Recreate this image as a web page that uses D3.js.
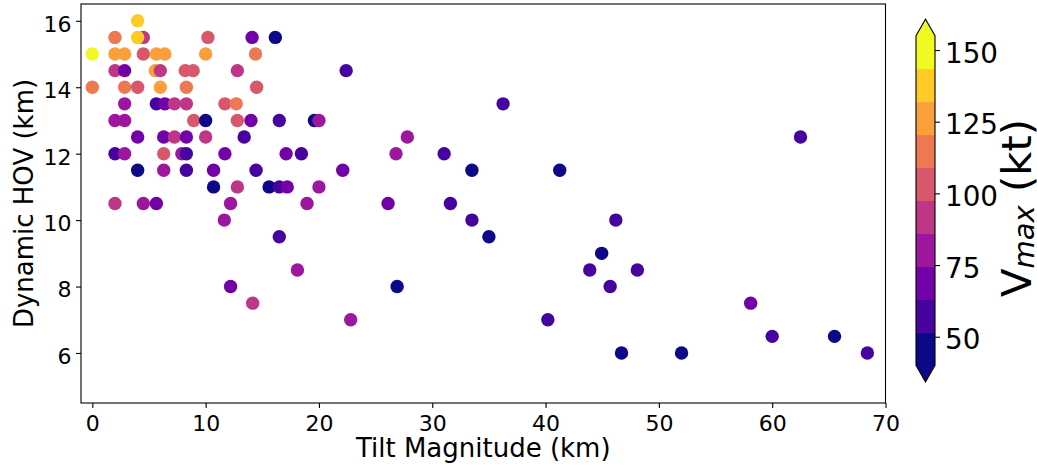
<!DOCTYPE html>
<html>
<head>
<meta charset="utf-8">
<script src="https://cdn.jsdelivr.net/npm/d3@7"></script>
<style>
  body { margin: 0; background: #fff; }
  svg { display: block; }
  text { font-family: "DejaVu Sans", sans-serif; fill: #000; }
</style>
</head>
<body>
<svg id="chart" width="1037" height="467"></svg>
<script>
// Tilt magnitude (km), dynamic HOV (km) and Vmax (kt) per case
const tilt = [
  4.0,
  2.0, 4.5, 4.0, 10.2, 14.1, 16.15,
  0.0, 2.0, 2.85, 4.5, 5.65, 6.4, 10.0, 14.4,
  2.0, 2.85, 5.55, 6.0, 8.2, 8.9, 12.8, 22.4,
  0.0, 2.85, 4.0, 6.0, 8.3, 14.5,
  2.85, 5.65, 6.4, 7.25, 8.3, 11.7, 12.7, 36.25,
  2.0, 2.85, 8.95, 10.0, 12.8, 14.0, 16.5, 19.6, 20.0,
  4.0, 6.3, 7.25, 8.3, 10.0, 13.4, 27.8, 62.5,
  2.0, 2.85, 6.3, 7.9, 8.3, 11.7, 17.1, 18.45, 26.8, 31.05,
  4.0, 6.3, 8.3, 10.7, 14.45, 22.1, 33.5, 41.25,
  10.7, 12.8, 15.6, 16.5, 17.2, 20.0,
  2.0, 4.5, 5.65, 12.2, 18.95, 26.1, 31.6,
  11.65, 33.5, 46.2,
  16.5, 35.0,
  44.95,
  18.1, 43.9, 48.1,
  12.2, 26.9, 45.7,
  14.15, 58.1,
  22.8, 40.2,
  60.0, 65.5,
  46.7, 52.0, 68.4
];
const hov = [
  16,
  15.5, 15.5, 15.5, 15.5, 15.5, 15.5,
  15, 15, 15, 15, 15, 15, 15, 15,
  14.5, 14.5, 14.5, 14.5, 14.5, 14.5, 14.5, 14.5,
  14, 14, 14, 14, 14, 14,
  13.5, 13.5, 13.5, 13.5, 13.5, 13.5, 13.5, 13.5,
  13, 13, 13, 13, 13, 13, 13, 13, 13,
  12.5, 12.5, 12.5, 12.5, 12.5, 12.5, 12.5, 12.5,
  12, 12, 12, 12, 12, 12, 12, 12, 12, 12,
  11.5, 11.5, 11.5, 11.5, 11.5, 11.5, 11.5, 11.5,
  11, 11, 11, 11, 11, 11,
  10.5, 10.5, 10.5, 10.5, 10.5, 10.5, 10.5,
  10, 10, 10,
  9.5, 9.5,
  9,
  8.5, 8.5, 8.5,
  8, 8, 8,
  7.5, 7.5,
  7, 7,
  6.5, 6.5,
  6, 6, 6
];
const vmax = [
  140,
  115, 90, 135, 100, 70, 45,
  155, 125, 130, 105, 125, 130, 125, 115,
  90, 65, 125, 95, 100, 105, 90, 55,
  115, 110, 100, 125, 115, 105,
  80, 55, 70, 90, 95, 100, 115, 55,
  80, 75, 100, 45, 105, 65, 55, 45, 80,
  70, 65, 90, 70, 95, 60, 80, 55,
  55, 80, 105, 80, 55, 70, 70, 60, 80, 55,
  45, 80, 55, 70, 60, 65, 45, 45,
  45, 90, 45, 55, 70, 85,
  90, 80, 70, 80, 80, 70, 55,
  80, 55, 55,
  55, 45,
  45,
  80, 55, 60,
  70, 45, 55,
  90, 70,
  80, 55,
  60, 45,
  45, 45, 55
];

// Colour levels of the Vmax colour bar (kt) and tick values
const levels = [40, 51.5, 63, 74.5, 86, 97.5, 109, 120.5, 132, 143.5, 155];
const cbTicks = [50, 75, 100, 125, 150];
const xTicks = [0, 10, 20, 30, 40, 50, 60, 70];
const yTicks = [6, 8, 10, 12, 14, 16];

const svg = d3.select("#chart");

// Plot area
const plotLeft = 81, plotRight = 885.5, plotTop = 4, plotBottom = 403;
const x = d3.scaleLinear().domain([-1, 70]).range([plotLeft, plotRight]);
const y = d3.scaleLinear().domain([4.5, 16.5]).range([402.8, 4.2]);

const nBands = levels.length - 1;
const bandColors = d3.range(nBands).map(i => d3.interpolatePlasma(i / (nBands - 1)));
const color = d3.scaleThreshold().domain(levels.slice(1, -1)).range(bandColors);

// Scatter points
const pts = tilt.map((t, i) => ({ t, h: hov[i], v: vmax[i] }));
svg.append("g")
  .selectAll("circle")
  .data(pts)
  .join("circle")
  .attr("cx", d => x(d.t))
  .attr("cy", d => y(d.h))
  .attr("r", 6.7)
  .attr("fill", d => color(d.v));

// Axes
const xAxis = svg.append("g")
  .attr("transform", `translate(0,${plotBottom})`)
  .call(d3.axisBottom(x).tickValues(xTicks).tickSize(5).tickPadding(7.5).tickFormat(d3.format("d")));
xAxis.select(".domain").remove();
xAxis.selectAll("text").style("font-size", "22px").style("font-family", "DejaVu Sans");
xAxis.selectAll("line").attr("stroke", "#000").attr("stroke-width", 1.1);

const yAxis = svg.append("g")
  .attr("transform", `translate(${plotLeft},0)`)
  .call(d3.axisLeft(y).tickValues(yTicks).tickSize(5).tickPadding(4.5).tickFormat(d3.format("d")));
yAxis.select(".domain").remove();
yAxis.selectAll("text").style("font-size", "22px").style("font-family", "DejaVu Sans").attr("dy", "0.47em");
yAxis.selectAll("line").attr("stroke", "#000").attr("stroke-width", 1.1);

// Frame
svg.append("rect")
  .attr("x", plotLeft).attr("y", plotTop)
  .attr("width", plotRight - plotLeft).attr("height", plotBottom - plotTop)
  .attr("fill", "none").attr("stroke", "#000").attr("stroke-width", 1.1);

// Axis labels
svg.append("text")
  .attr("x", (plotLeft + plotRight) / 2).attr("y", 457)
  .attr("text-anchor", "middle")
  .style("font-size", "26px")
  .text("Tilt Magnitude (km)");

svg.append("text")
  .attr("transform", `translate(33,${(plotTop + plotBottom) / 2}) rotate(-90)`)
  .attr("text-anchor", "middle")
  .style("font-size", "26px")
  .text("Dynamic HOV (km)");

// Colour bar
const cbX0 = 916, cbX1 = 935;
const cb = d3.scaleLinear().domain([levels[0], levels[levels.length - 1]]).range([365.4, 35.7]);
const extLen = 0.05 * (cb(levels[0]) - cb(levels[levels.length - 1]));
const cbg = svg.append("g");

cbg.selectAll("rect")
  .data(d3.range(nBands))
  .join("rect")
  .attr("x", cbX0)
  .attr("width", cbX1 - cbX0)
  .attr("y", i => cb(levels[i + 1]))
  .attr("height", i => cb(levels[i]) - cb(levels[i + 1]) + 0.5)
  .attr("fill", i => bandColors[i]);

const midX = (cbX0 + cbX1) / 2;
const yTop = cb(levels[levels.length - 1]), yBot = cb(levels[0]);
cbg.append("path")
  .attr("d", `M${cbX0},${yTop + 0.3}L${midX},${yTop - extLen}L${cbX1},${yTop + 0.3}Z`)
  .attr("fill", bandColors[nBands - 1]);
cbg.append("path")
  .attr("d", `M${cbX0},${yBot - 0.3}L${midX},${yBot + extLen}L${cbX1},${yBot - 0.3}Z`)
  .attr("fill", bandColors[0]);
cbg.append("path")
  .attr("d", `M${cbX0},${yTop}L${midX},${yTop - extLen}L${cbX1},${yTop}L${cbX1},${yBot}L${midX},${yBot + extLen}L${cbX0},${yBot}Z`)
  .attr("fill", "none").attr("stroke", "#000").attr("stroke-width", 1.1);

const cbAxis = svg.append("g")
  .attr("transform", `translate(${cbX1},0)`)
  .call(d3.axisRight(cb).tickValues(cbTicks).tickSize(5).tickPadding(5).tickFormat(d3.format("d")));
cbAxis.select(".domain").remove();
cbAxis.selectAll("text").style("font-size", "27.8px").style("font-family", "DejaVu Sans").attr("dy", "0.43em");
cbAxis.selectAll("line").attr("stroke", "#000").attr("stroke-width", 1.1);

// Colour bar label: V with italic subscript "max"
const lab = svg.append("text")
  .attr("transform", "translate(1031,208) rotate(-90)")
  .attr("text-anchor", "middle")
  .style("font-size", "41.7px");
lab.append("tspan").text("V");
lab.append("tspan").attr("dy", 3).style("font-size", "29px").style("font-style", "italic").text("max");
lab.append("tspan").attr("dy", -3).text(" (kt)");
</script>
</body>
</html>
